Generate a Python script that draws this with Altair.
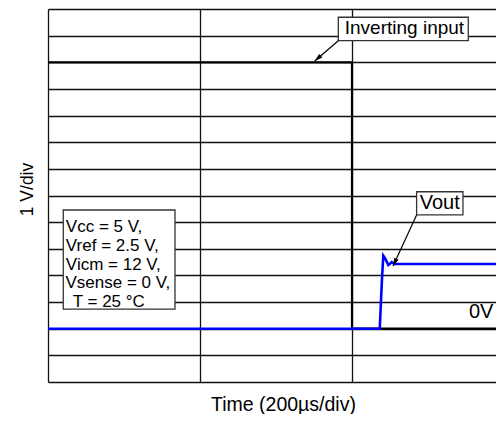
import altair as alt
import pandas as pd

# ---- data (time in microseconds, voltage in volts) ----
inv_t = [0, 400, 400]
inv_v = [10, 10, 0]
gnd_t = [400, 600]
gnd_v = [0, 0]
out_t = [0, 436.5, 439.5, 441.2, 444.0, 447.8, 450.0, 452.2, 456.0, 600]
out_v = [0, 0, 1.9, 2.74, 2.62, 2.39, 2.44, 2.50, 2.43, 2.43]

x_grid = [0, 200, 400]
y_grid = list(range(-2, 13))

cond_lines = ["Vcc = 5 V,", "Vref = 2.5 V,", "Vicm = 12 V,", "Vsense = 0 V,", "T = 25 \u00b0C"]

FONT = "Liberation Sans"

# visible time span of the plot (the plot is cropped at the right)
X_MAX = 200 * 448 / 152

# annotation layout (in data units)
cond_box = dict(t=20.1, t2=167.1, v=4.455, v2=0.733)
cond_text_t = [23.5, 23.5, 23.5, 23.0, 32.5]
cond_text_v = [3.80, 3.10, 2.41, 1.72, 1.02]
inv_box = dict(t=382, t2=553, v=11.69, v2=10.81)
inv_label = dict(t=469, v=11.27, text="Inverting input")
inv_arrow = dict(t=382, v=10.81, t2=351, v2=10.05, angle=229)
out_box = dict(t=485, t2=546, v=5.14, v2=4.27)
out_label = dict(t=515.5, v=4.72, text="Vout")
out_arrow = dict(t=485, v=4.27, t2=454, v2=2.35, angle=205)
zero_label = dict(t=586, v=0.62, text="0V")

xs = alt.Scale(domain=[0, X_MAX], nice=False, zero=False)
ys = alt.Scale(domain=[-2, 12], nice=False, zero=False)

x_axis = alt.Axis(values=x_grid, grid=True, gridColor="#111", gridWidth=1.3,
                  labels=False, ticks=False, domain=False,
                  title="Time (200\u00b5s/div)", titleFont=FONT, titleFontSize=19.5,
                  titleFontWeight="normal", titleColor="#000", titlePadding=13,
                  titleX=235)
y_axis = alt.Axis(values=y_grid, grid=True, gridColor="#111", gridWidth=1.3,
                  labels=False, ticks=False, domain=False,
                  title="1 V/div", titleFont=FONT, titleFontSize=17.5,
                  titleFontWeight="normal", titleColor="#000", titlePadding=12,
                  titleY=180)


def X(f="t"):
    return alt.X(f"{f}:Q", scale=xs, axis=x_axis)


def Y(f="v"):
    return alt.Y(f"{f}:Q", scale=ys, axis=y_axis)


inv_df = pd.DataFrame({"t": inv_t, "v": inv_v, "o": range(len(inv_t))})
gnd_df = pd.DataFrame({"t": gnd_t, "v": gnd_v, "o": range(len(gnd_t))})
out_df = pd.DataFrame({"t": out_t, "v": out_v, "o": range(len(out_t))})

inv_line = alt.Chart(inv_df).mark_line(color="#000", strokeWidth=2.2, clip=True).encode(
    x=X(), y=Y(), order="o:Q")
gnd_line = alt.Chart(gnd_df).mark_line(color="#000", strokeWidth=2.4, clip=True).encode(
    x=X(), y=Y(), order="o:Q")
out_line = alt.Chart(out_df).mark_line(color="#0000ff", strokeWidth=2.6, clip=True).encode(
    x=X(), y=Y(), order="o:Q")

boxes_df = pd.DataFrame([cond_box, inv_box, out_box])
boxes = alt.Chart(boxes_df).mark_rect(fill="white", stroke="#333", strokeWidth=1.3).encode(
    x=X(), x2="t2:Q", y=Y(), y2="v2:Q")

cond_df = pd.DataFrame({"t": cond_text_t, "v": cond_text_v, "text": cond_lines})
cond_text = alt.Chart(cond_df).mark_text(align="left", baseline="middle", font=FONT,
                                         fontSize=17, color="#000").encode(
    x=X(), y=Y(), text="text:N")

inv_text = alt.Chart(pd.DataFrame([inv_label])).mark_text(
    align="center", baseline="middle", font=FONT, fontSize=19, color="#000").encode(
    x=X(), y=Y(), text="text:N")
out_text = alt.Chart(pd.DataFrame([out_label])).mark_text(
    align="center", baseline="middle", font=FONT, fontSize=20, color="#000").encode(
    x=X(), y=Y(), text="text:N")
zero_text = alt.Chart(pd.DataFrame([zero_label])).mark_text(
    align="right", baseline="middle", font=FONT, fontSize=20, color="#000").encode(
    x=X(), y=Y(), text="text:N")

arrows_df = pd.DataFrame([inv_arrow, out_arrow])
arrow_lines = alt.Chart(arrows_df).mark_rule(color="#000", strokeWidth=1.2).encode(
    x=X(), y=Y(), x2="t2:Q", y2="v2:Q")
arrow_heads = alt.Chart(arrows_df).mark_point(
    shape="M0,0L-0.6,2L0.6,2Z", filled=True, color="#000", opacity=1, size=64,
    strokeWidth=0).encode(
    x=X("t2"), y=Y("v2"), angle=alt.Angle("angle:Q", scale=None))

chart = alt.layer(
    gnd_line, inv_line, out_line, boxes, cond_text, inv_text, out_text, zero_text,
    arrow_lines, arrow_heads
).properties(
    width=448, height=373,
    padding={"left": 40, "top": 1, "right": 0, "bottom": 32},
    autosize=alt.AutoSizeParams(type="none"),
    background="white",
).configure_view(stroke=None)

chart.save("out.html", embed_options={"renderer": "svg", "actions": False})
